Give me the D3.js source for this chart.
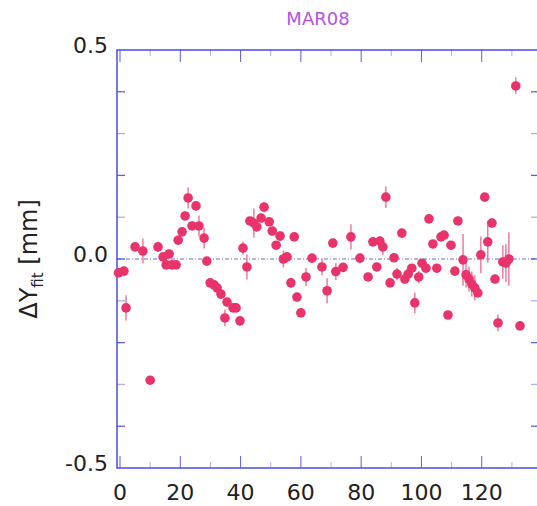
<!DOCTYPE html>
<html>
<head>
<meta charset="utf-8">
<script src="https://d3js.org/d3.v7.min.js"></script>
<style>
  body { margin: 0; background: #fff; }
  text { font-family: "DejaVu Sans", sans-serif; }
</style>
</head>
<body>
<script>
// run index vs residual
var idx = [-0.5, 1.3, 2, 5, 7.6, 10, 12.6, 14.3, 15.3, 16.3, 17.2, 18.6, 19.3, 20.6, 21.6, 22.6,
  23.9, 25.2, 26.2, 27.9, 28.8, 29.9, 31.2, 32.2, 33.5, 34.8, 35.5, 37.5, 38.5, 39.8, 40.8,
  42.1, 43.1, 44.4, 45.4, 46.8, 47.8, 49.5, 50.5, 51.8, 53.1, 54.2, 55.4, 56.7, 57.8, 58.7,
  60.0, 61.7, 63.7, 67.0, 68.7, 70.6, 71.6, 74.0, 76.6, 79.6, 82.3, 83.9, 85.2, 86.2, 87.2,
  88.2, 89.6, 90.9, 91.9, 93.5, 94.5, 95.6, 96.8, 97.8, 99.1, 100.2, 101.5, 102.5, 103.8,
  105.1, 106.5, 107.5, 108.8, 109.8, 111.1, 112.1, 113.8, 114.8, 115.8, 116.7, 117.7, 118.7,
  119.7, 121.0, 122.0, 123.4, 124.4, 125.4, 127.0, 128.0, 129.0, 131.3, 132.7];
var dy = [-0.033, -0.029, -0.117, 0.029, 0.019, -0.29, 0.029, 0.005, -0.014, 0.012, -0.014, -0.014,
  0.045, 0.065, 0.103, 0.146, 0.079, 0.127, 0.079, 0.05, -0.005, -0.057, -0.062, -0.069, -0.084,
  -0.141, -0.103, -0.117, -0.117, -0.148, 0.026, -0.019, 0.091, 0.086, 0.077, 0.098, 0.124,
  0.089, 0.067, 0.033, 0.055, 0.0, 0.005, -0.057, 0.053, -0.091, -0.129, -0.043, 0.002, -0.019,
  -0.076, 0.038, -0.030, -0.02, 0.053, 0.002, -0.043, 0.041, -0.019, 0.043, 0.029, 0.148,
  -0.057, 0.003, -0.036, 0.062, -0.048, -0.036, -0.022, -0.105, -0.043, -0.01, -0.022, 0.096,
  0.036, -0.022, 0.053, 0.057, -0.134, 0.033, -0.029, 0.091, -0.002, -0.038, -0.048, -0.06,
  -0.069, -0.081, 0.01, 0.148, 0.041, 0.086, -0.048, -0.153, -0.007, -0.01, 0.0, 0.414, -0.16];
var err = [0.01, 0.01, 0.03, 0.01, 0.03, 0.01, 0.012, 0.01, 0.01, 0.01, 0.01, 0.01, 0.012, 0.01,
  0.01, 0.025, 0.01, 0.012, 0.025, 0.025, 0.01, 0.01, 0.01, 0.01, 0.01, 0.02, 0.01, 0.01, 0.01,
  0.01, 0.015, 0.03, 0.01, 0.035, 0.012, 0.01, 0.012, 0.01, 0.01, 0.01, 0.012, 0.02, 0.01,
  0.012, 0.008, 0.01, 0.01, 0.022, 0.01, 0.02, 0.03, 0.01, 0.02, 0.01, 0.03, 0.012, 0.01, 0.01,
  0.01, 0.01, 0.02, 0.026, 0.01, 0.01, 0.015, 0.01, 0.01, 0.01, 0.01, 0.025, 0.015, 0.01, 0.01,
  0.01, 0.01, 0.01, 0.01, 0.01, 0.005, 0.01, 0.01, 0.01, 0.062, 0.03, 0.03, 0.03, 0.03, 0.01,
  0.044, 0.01, 0.05, 0.012, 0.01, 0.02, 0.04, 0.045, 0.064, 0.02, 0.008];

var xTicks = [0, 20, 40, 60, 80, 100, 120];
var yLabels = ["0.5", "0.0", "-0.5"];

var W = 537, H = 506;
var axisCol = "#4b4be6";
var dotCol = "#e8336b";

var svg = d3.select("body").append("svg").attr("width", W).attr("height", H);

var x = d3.scaleLinear().domain([-1, 139]).range([117, 539]);
var y = d3.scaleLinear().domain([-0.5, 0.5]).range([468, 50]);

// zero line
svg.append("line")
  .attr("x1", x.range()[0]).attr("x2", x.range()[1])
  .attr("y1", y(0)).attr("y2", y(0))
  .attr("stroke", "#6b6bea").attr("stroke-width", 1)
  .attr("stroke-dasharray", "4,2,1,2");

// frame + ticks
var g = svg.append("g").attr("stroke", axisCol).attr("fill", "none");
g.append("rect")
  .attr("x", x.range()[0]).attr("y", y(0.5))
  .attr("width", x.range()[1] - x.range()[0]).attr("height", y(-0.5) - y(0.5))
  .attr("stroke-width", 1.5);

var xMinor = d3.range(0, 131, 10);
xMinor.forEach(function (v) {
  var len = v % 20 === 0 ? 12 : 6;
  var op = v % 20 === 0 ? 0.9 : 0.45;
  g.append("line").attr("x1", x(v)).attr("x2", x(v))
    .attr("y1", y(-0.5)).attr("y2", y(-0.5) - len).attr("stroke-opacity", op);
  g.append("line").attr("x1", x(v)).attr("x2", x(v))
    .attr("y1", y(0.5)).attr("y2", y(0.5) + len).attr("stroke-opacity", op);
});
d3.range(-4, 5).forEach(function (k) {
  var v = k / 10;
  var op = k % 2 === 0 ? 0.9 : 0.45;
  g.append("line").attr("x1", x.range()[0]).attr("x2", x.range()[0] + 8)
    .attr("y1", y(v)).attr("y2", y(v)).attr("stroke-opacity", op).attr("stroke-width", 1.3);
  g.append("line").attr("x1", x.range()[1]).attr("x2", x.range()[1] - 8)
    .attr("y1", y(v)).attr("y2", y(v)).attr("stroke-opacity", op).attr("stroke-width", 1.3);
});

// tick labels
svg.selectAll(".xl").data(xTicks).enter().append("text")
  .attr("x", function (d) { return x(d); })
  .attr("y", 500)
  .attr("text-anchor", "middle")
  .attr("font-size", 22).attr("fill", "#222")
  .text(function (d) { return d; });

svg.selectAll(".yl").data(yLabels).enter().append("text")
  .attr("x", 108)
  .attr("y", function (d) { return y(+d) + 3; })
  .attr("text-anchor", "end")
  .attr("font-size", 22).attr("fill", "#222")
  .text(function (d) { return d; });

// axis title
var yt = svg.append("text")
  .attr("transform", "translate(37," + y(0) + ") rotate(-90)")
  .attr("text-anchor", "middle")
  .attr("font-size", 24).attr("fill", "#222");
yt.append("tspan").text("ΔY");
yt.append("tspan").attr("font-size", 15).attr("dy", 6).text("fit");
yt.append("tspan").attr("dy", -6).text(" [mm]");

// title
svg.append("text")
  .attr("x", 318).attr("y", 25)
  .attr("text-anchor", "middle")
  .attr("font-size", 18).attr("fill", "#b452e6")
  .text("MAR08");

// points
var pts = idx.map(function (v, i) { return { x: v, y: dy[i], e: err[i] }; });

svg.append("g").selectAll("line").data(pts).enter().append("line")
  .attr("x1", function (d) { return x(d.x); })
  .attr("x2", function (d) { return x(d.x); })
  .attr("y1", function (d) { return y(d.y - d.e); })
  .attr("y2", function (d) { return y(d.y + d.e); })
  .attr("stroke", "#ef7c9e").attr("stroke-width", 1.5);

svg.append("g").selectAll("circle").data(pts).enter().append("circle")
  .attr("cx", function (d) { return x(d.x); })
  .attr("cy", function (d) { return y(d.y); })
  .attr("r", 4.8)
  .attr("fill", dotCol);
</script>
</body>
</html>
